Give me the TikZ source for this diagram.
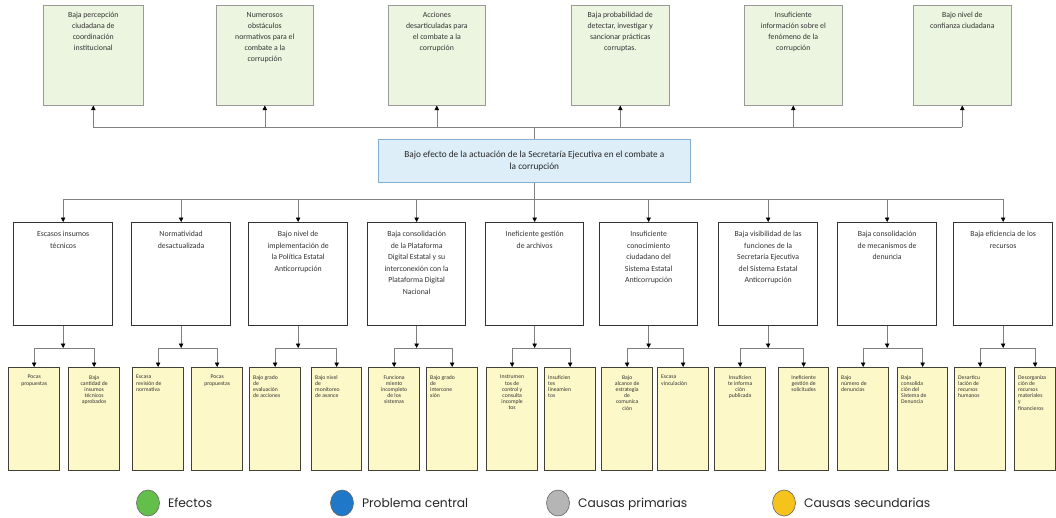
\documentclass[tikz,border=0pt]{standalone}
\usepackage{fontspec}
\setmainfont{Carlito}
\newfontfamily\legfont{Poppins}
\usetikzlibrary{arrows.meta,calc,shapes.geometric}
\definecolor{effgreen}{HTML}{EBF5DF}
\definecolor{cenblue}{HTML}{DDEEF8}
\definecolor{secyel}{HTML}{FCF8C8}
\definecolor{cenedge}{HTML}{86AFCF}
\definecolor{lgreen}{HTML}{63BE4A}
\definecolor{lblue}{HTML}{1F78C8}
\definecolor{lgray}{HTML}{B5B5B5}
\definecolor{lyellow}{HTML}{F6C21C}
\newcommand\mkbox[9]{% style, name, x, y, w, h, textstyle, shift, text
  \node[#1, minimum width=#5pt, minimum height=#6pt] (#2) at (#3,#4) {};
  \node[#7] (#2t) at ([yshift=-#8pt]#2.north) {#9};}
\newcommand\mksec[5]{% name, x, align(c/l), w, text
  \node[secbox, minimum width=#4pt] (#1) at (#2,367) {};
  \ifx c#3
    \node[sectxt, anchor=north, align=center] (#1t) at ([yshift=-8pt]#1.north) {#5};
  \else
    \node[sectxt, anchor=north west, align=left] (#1t) at ([xshift=4pt,yshift=-8pt]#1.north west) {#5};
  \fi}
\begin{document}
\begin{tikzpicture}[x=1pt,y=-1pt,
  effbox/.style={draw=black!40, fill=effgreen, line width=0.6pt, anchor=north west, inner sep=0pt},
  efftxt/.style={anchor=north, align=center, inner sep=0pt, font=\fontsize{7.8}{11}\selectfont, text=black!80},
  cenbox/.style={draw=cenedge, fill=cenblue, line width=0.7pt, anchor=north west, inner sep=0pt},
  centxt/.style={anchor=north, align=center, inner sep=0pt, font=\fontsize{9.3}{12}\selectfont, text=black!85},
  primbox/.style={draw=black!80, fill=white, line width=1.3pt, anchor=north west, inner sep=0pt},
  primtxt/.style={anchor=north, align=center, inner sep=0pt, font=\fontsize{7.8}{11.5}\selectfont, text=black!80},
  secbox/.style={draw=black!75!yellow!60!black, fill=secyel, line width=1.3pt, anchor=north west, inner sep=0pt, minimum height=103pt},
  sectxt/.style={inner sep=0pt, font=\fontsize{5.7}{6.2}\selectfont, text=black!80},
  conn/.style={draw=black!50, line width=0.6pt},
  arr/.style={-{Triangle[length=4.5pt,width=4.5pt,color=black]}},
  legc/.style={ellipse, draw=black!60, line width=0.6pt, minimum width=23pt, minimum height=26pt, inner sep=0pt},
  legt/.style={anchor=base west, inner sep=0pt, font=\legfont\fontsize{12.3}{14}\selectfont, text=black!85}]
\useasboundingbox (0,0) rectangle (1056,517);

% effects
\mkbox{effbox}{e1}{43}{5}{100}{100}{efftxt}{7}{Baja percepción\\ciudadana de\\coordinación\\institucional}
\mkbox{effbox}{e2}{216}{5}{97}{100}{efftxt}{7}{Numerosos\\obstáculos\\normativos para el\\combate a la\\corrupción}
\mkbox{effbox}{e3}{388}{5}{97}{100}{efftxt}{7}{Acciones\\desarticuladas para\\el combate a la\\corrupción}
\mkbox{effbox}{e4}{571}{5}{98}{100}{efftxt}{7}{Baja probabilidad de\\detectar, investigar y\\sancionar prácticas\\corruptas.}
\mkbox{effbox}{e5}{744}{5}{98}{100}{efftxt}{7}{Insuficiente\\información sobre el\\fenómeno de la\\corrupción}
\mkbox{effbox}{e6}{913}{5}{98}{100}{efftxt}{7}{Bajo nivel de\\confianza ciudadana}

% central problem
\node[cenbox, minimum width=312pt, minimum height=43pt] (c) at (378,139) {};
\node[centxt, anchor=center] (ct) at (c.center) {Bajo efecto de la actuación de la Secretaría Ejecutiva en el combate a\\la corrupción};

% primary causes
\mkbox{primbox}{p1}{13}{222}{99}{103}{primtxt}{9}{Escasos insumos\\técnicos}
\mkbox{primbox}{p2}{131}{222}{99}{103}{primtxt}{9}{Normatividad\\desactualizada}
\mkbox{primbox}{p3}{248}{222}{99}{103}{primtxt}{9}{Bajo nivel de\\implementación de\\la Política Estatal\\Anticorrupción}
\mkbox{primbox}{p4}{367}{222}{98}{103}{primtxt}{9}{Baja consolidación\\de la Plataforma\\Digital Estatal y su\\interconexión con la\\Plataforma Digital\\Nacional}
\mkbox{primbox}{p5}{485}{222}{98}{103}{primtxt}{9}{Ineficiente gestión\\de archivos}
\mkbox{primbox}{p6}{599}{222}{98}{103}{primtxt}{9}{Insuficiente\\conocimiento\\ciudadano del\\Sistema Estatal\\Anticorrupción}
\mkbox{primbox}{p7}{718}{222}{99}{103}{primtxt}{9}{Baja visibilidad de las\\funciones de la\\Secretaría Ejecutiva\\del Sistema Estatal\\Anticorrupción}
\mkbox{primbox}{p8}{837}{222}{99}{103}{primtxt}{9}{Baja consolidación\\de mecanismos de\\denuncia}
\mkbox{primbox}{p9}{953}{222}{99}{103}{primtxt}{9}{Baja eficiencia de los\\recursos}

% secondary causes
\mksec{s1}{8}{c}{51}{Pocas\\propuestas}
\mksec{s2}{68}{c}{51}{Baja\\cantidad de\\insumos\\técnicos\\aprobados}
\mksec{s3}{132}{l}{51}{Escasa\\revisión de\\normativa}
\mksec{s4}{191}{c}{51}{Pocas\\propuestas}
\mksec{s5}{249}{l}{51}{Bajo grado\\de\\evaluación\\de acciones}
\mksec{s6}{311}{l}{50}{Bajo nivel\\de\\monitoreo\\de avance}
\mksec{s7}{368}{c}{51}{Funciona\\miento\\incompleto\\de los\\sistemas}
\mksec{s8}{426}{l}{51}{Bajo grado\\de\\intercone\\xión}
\mksec{s9}{486}{c}{51}{Instrumen\\tos de\\control y\\consulta\\incomple\\tos}
\mksec{s10}{544}{l}{51}{Insuficien\\tes\\lineamien\\tos}
\mksec{s11}{601}{c}{51}{Bajo\\alcance de\\estrategia\\de\\comunica\\ción}
\mksec{s12}{657}{l}{51}{Escasa\\vinculación}
\mksec{s13}{714}{c}{51}{Insuficien\\te informa\\ción\\publicada}
\mksec{s14}{778}{c}{50}{Ineficiente\\gestión de\\solicitudes}
\mksec{s15}{837}{l}{51}{Bajo\\número de\\denuncias}
\mksec{s16}{897}{l}{50}{Baja\\consolida\\ción del\\Sistema de\\Denuncia}
\mksec{s17}{954}{l}{51}{Desarticu\\lación de\\recursos\\humanos}
\mksec{s18}{1014}{l}{41}{Desorganiza\\ción de\\recursos\\materiales\\y\\financieros}

% connectors
\coordinate (tb) at (0,127);
\coordinate (bb) at (0,199);
\coordinate (sb) at (0,348);
\draw[conn] (c.north) -- (c.north |- tb);
\draw[conn] (e1.south |- tb) -- (e6.south |- tb);
\foreach \i in {1,...,6} {\draw[conn,arr] (e\i.south |- tb) -- (e\i.south);}
\draw[conn] (c.south) -- (c.south |- bb);
\draw[conn] (p1.north |- bb) -- (p9.north |- bb);
\foreach \i in {1,...,9} {\draw[conn,arr] (p\i.north |- bb) -- (p\i.north);}
\foreach \i [evaluate=\i as \a using int(2*\i-1), evaluate=\i as \b using int(2*\i)] in {1,...,9} {
  \draw[conn,arr] (p\i.south) -- (p\i.south |- sb);
  \draw[conn] (s\a.north |- sb) -- (s\b.north |- sb);
  \draw[conn,arr] (s\a.north |- sb) -- (s\a.north);
  \draw[conn,arr] (s\b.north |- sb) -- (s\b.north);
}

% legend
\node[legc, fill=lgreen] (l1) at (148,503) {};
\node[legt] (l1t) at ([xshift=8pt,yshift=-4.5pt]l1.east) {Efectos};
\node[legc, fill=lblue] (l2) at (342,503) {};
\node[legt] (l2t) at ([xshift=8pt,yshift=-4.5pt]l2.east) {Problema central};
\node[legc, fill=lgray] (l3) at (558,503) {};
\node[legt] (l3t) at ([xshift=8pt,yshift=-4.5pt]l3.east) {Causas primarias};
\node[legc, fill=lyellow] (l4) at (784,503) {};
\node[legt] (l4t) at ([xshift=8pt,yshift=-4.5pt]l4.east) {Causas secundarias};
\end{tikzpicture}
\end{document}
